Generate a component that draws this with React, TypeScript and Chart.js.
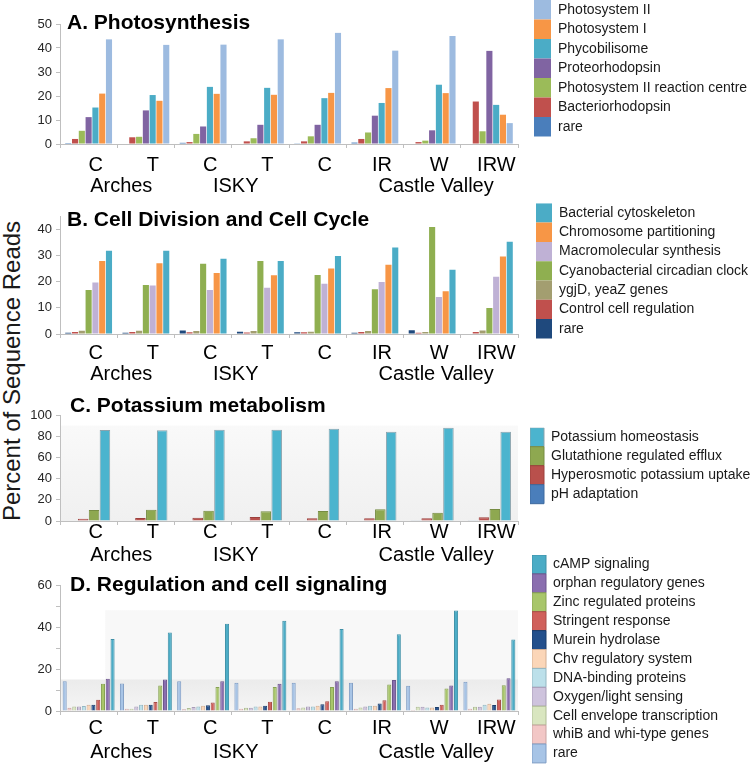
import React, { useEffect, useRef } from "react";
import { Chart, registerables } from "chart.js";

Chart.register(...registerables);

const FONT = '"Liberation Sans", Arial, Helvetica, sans-serif';
Chart.defaults.font.family = FONT;

// ---------- shared axis data ----------
const CATEGORIES = ["C", "T", "C", "T", "C", "IR", "W", "IRW"];
const GROUP_NAMES = ["Arches", "ISKY", "Castle Valley"];
const GROUP_CENTERS = [0.5, 2.5, 6];
const Y_TITLE = "Percent of Sequence Reads";

// ---------- A. Photosynthesis ----------
const A_TITLE = "A. Photosynthesis";
const A_NAMES = ["rare", "Bacteriorhodopsin", "Photosystem II reaction centre", "Proteorhodopsin", "Phycobilisome", "Photosystem I", "Photosystem II"];
const A_RARE = [0.4, 0, 0.5, 0, 0.3, 0.6, 0, 0];
const A_BACTERIORHODOPSIN = [2.1, 2.8, 0.8, 1.1, 1.1, 2.1, 0.8, 17.7];
const A_PSII_REACTION_CENTRE = [5.5, 3.0, 4.2, 2.4, 3.2, 4.8, 1.4, 5.3];
const A_PROTEORHODOPSIN = [11.2, 14.0, 7.3, 8.0, 8.0, 11.8, 5.7, 38.8];
const A_PHYCOBILISOME = [15.2, 20.4, 23.8, 23.4, 19.1, 17.1, 24.7, 16.3];
const A_PHOTOSYSTEM_I = [21.0, 18.0, 20.9, 20.5, 21.3, 23.3, 21.2, 12.2];
const A_PHOTOSYSTEM_II = [43.6, 41.3, 41.4, 43.6, 46.3, 38.9, 45.0, 8.7];
const A_COLORS = ["#4A7EBB", "#C0504D", "#9BBB59", "#8064A2", "#4BACC6", "#F79646", "#9DBBE0"];

// ---------- B. Cell Division and Cell Cycle ----------
const B_TITLE = "B. Cell Division and Cell Cycle";
const B_NAMES = ["rare", "Control cell regulation", "ygjD, yeaZ genes", "Cyanobacterial circadian clock", "Macromolecular synthesis", "Chromosome partitioning", "Bacterial cytoskeleton"];
const B_RARE = [0.5, 0.5, 1.3, 0.9, 0.7, 0.5, 1.4, 0.2];
const B_CONTROL = [0.8, 0.8, 0.7, 0.6, 0.7, 0.8, 0.5, 0.8];
const B_YGJD_YEAZ = [1.2, 1.2, 1.1, 1.1, 0.9, 1.1, 0.8, 1.3];
const B_CIRCADIAN = [16.8, 18.7, 26.8, 27.9, 22.5, 17.1, 40.9, 9.9];
const B_MACROMOLECULAR = [19.7, 18.5, 16.8, 17.7, 19.2, 19.9, 14.1, 21.9];
const B_CHROMOSOME = [27.9, 27.0, 23.3, 22.4, 25.0, 26.5, 16.3, 29.6];
const B_CYTOSKELETON = [31.8, 31.8, 28.7, 27.9, 29.8, 33.0, 24.5, 35.2];
const B_COLORS = ["#1F497D", "#C0504D", "#A39E70", "#8FAF50", "#BFB1D5", "#F79646", "#4BACC6"];

// ---------- C. Potassium metabolism ----------
const C_TITLE = "C. Potassium metabolism";
const C_NAMES = ["pH adaptation", "Hyperosmotic potassium uptake", "Glutathione regulated efflux", "Potassium homeostasis"];
const C_PH = [0.5, 0.5, 0.5, 0.4, 0.5, 0.5, 0.3, 0.8];
const C_HYPEROSMOTIC = [2.2, 2.8, 3.1, 3.8, 2.5, 2.6, 2.5, 3.5];
const C_GLUTATHIONE = [10.4, 10.7, 9.7, 9.1, 9.4, 11.0, 7.9, 11.3];
const C_HOMEOSTASIS = [85.8, 85.6, 86.0, 86.0, 87.1, 84.2, 88.0, 84.2];
const C_COLORS = ["#4A7EBB", "#B9504C", "#8EA850", "#4BB4CE"];
const C_BORDERS = ["#3E6A9E", "#9C403D", "#768C42", "#8AA3AD"];

// ---------- D. Regulation and cell signaling ----------
const D_TITLE = "D. Regulation and cell signaling";
const D_NAMES = ["rare", "whiB and whi-type genes", "Cell envelope transcription", "Oxygen/light sensing", "DNA-binding proteins", "Chv regulatory system", "Murein hydrolase", "Stringent response", "Zinc regulated proteins", "orphan regulatory genes", "cAMP signaling"];
const D_RARE = [14.2, 13.1, 14.2, 13.4, 13.4, 13.4, 12.0, 13.9];
const D_WHIB = [1.6, 1.1, 0.8, 1.1, 1.3, 1.1, 0.5, 1.1];
const D_CELL_ENVELOPE = [2.1, 1.1, 1.4, 1.6, 1.7, 1.7, 2.0, 2.0];
const D_OXYGEN_LIGHT = [2.1, 2.1, 1.9, 1.6, 2.1, 2.2, 2.0, 2.0];
const D_DNA_BINDING = [2.4, 3.0, 2.1, 2.1, 2.1, 2.5, 1.7, 3.0];
const D_CHV = [3.0, 3.0, 2.5, 2.1, 2.5, 2.5, 1.7, 3.5];
const D_MUREIN = [3.0, 3.0, 2.7, 2.5, 3.2, 3.6, 1.9, 2.8];
const D_STRINGENT = [5.4, 4.3, 4.0, 4.4, 4.7, 5.1, 3.0, 5.5];
const D_ZINC = [13.0, 12.2, 11.4, 11.4, 11.4, 12.6, 10.7, 12.3];
const D_ORPHAN = [15.3, 15.0, 14.2, 13.0, 14.2, 14.8, 12.2, 15.6];
const D_CAMP = [34.3, 37.4, 41.5, 43.0, 39.0, 36.6, 47.9, 34.0];
const D_COLORS = ["#A7C4E6", "#F2C7C6", "#D9E6C0", "#CEC3DD", "#BCE0EA", "#FBD6B8", "#24508C", "#D0605B", "#A8C66A", "#8A6EAF", "#4BACC6"];
const D_BORDERS = ["#7E9CC4", "#C9A3A2", "#AEBC95", "#A79CB7", "#94B7C2", "#D2AE92", "#1B3D6B", "#A84C48", "#87A252", "#6D558D", "#3E90A7"];

const AXIS = "#BFBFBF";

type Band = { x0: number; x1: number; y0: number; y1: number; top: string; bottom: string };
type Frame = {
  top: number; height: number; padBottom: number;
  titlePadTop: number; titlePadBottom: number; titleDx: number;
  xPad: number; x2Pad: number;
  legendDx: number; legendDy: number; boxW: number; boxH: number;
  catPct: number; barPct: number;
};
type Spec = {
  title: string; names: string[]; series: number[][]; colors: string[]; borders: string[] | null;
  yMax: number; yStep: number; yEvery: number; bands: Band[]; frame: Frame;
};

const LEGEND_WIDTH = 232;

function makeTweaks(f: Frame, bands: Band[]) {
  return {
    id: "panelTweaks",
    beforeLayout(chart: any) {
      const lg = chart.legend;
      if (lg && !lg.__fixed) {
        const fit = lg.fit.bind(lg);
        lg.fit = function () {
          fit();
          this.width = LEGEND_WIDTH;
        };
        lg.__fixed = true;
      }
    },
    afterLayout(chart: any) {
      const lg = chart.legend;
      if (lg) {
        lg.left += f.legendDx; lg.right += f.legendDx;
        lg.top += f.legendDy; lg.bottom += f.legendDy;
      }
      const t = chart.titleBlock;
      if (t) { t.left += f.titleDx; t.right += f.titleDx; }
    },
    beforeDraw(chart: any) {
      const xs = chart.scales.x2;
      const ys = chart.scales.y;
      const ctx = chart.ctx;
      ctx.save();
      for (const b of bands) {
        const px0 = xs.getPixelForValue(b.x0);
        const px1 = xs.getPixelForValue(b.x1);
        const py0 = ys.getPixelForValue(b.y1);
        const py1 = ys.getPixelForValue(b.y0);
        const g = ctx.createLinearGradient(0, py0, 0, py1);
        g.addColorStop(0, b.top);
        g.addColorStop(1, b.bottom);
        ctx.fillStyle = g;
        ctx.fillRect(px0, py0, px1 - px0, py1 - py0);
      }
      ctx.restore();
    },
  };
}

const noLabelClip = (sc: any) => {
  sc._computeLabelArea = () => undefined;
};

function makeConfig(s: Spec): any {
  const f = s.frame;
  return {
    type: "bar",
    data: {
      labels: CATEGORIES,
      datasets: s.series.map((data, i) => ({
        label: s.names[i],
        data,
        backgroundColor: s.colors[i],
        borderColor: s.borders ? s.borders[i] : s.colors[i],
        borderWidth: s.borders ? 1 : 0,
        categoryPercentage: f.catPct,
        barPercentage: f.barPct,
        xAxisID: "x",
        yAxisID: "y",
      })),
    },
    options: {
      responsive: false,
      animation: false,
      events: [],
      layout: { padding: { top: 0, left: 0, right: 0, bottom: f.padBottom } },
      scales: {
        x: {
          type: "category",
          position: "bottom",
          weight: 0,
          offset: true,
          afterFit: noLabelClip,
          grid: { display: true, offset: true, drawOnChartArea: false, drawTicks: true, tickLength: 4, color: AXIS },
          border: { display: true, color: AXIS, width: 1 },
          ticks: {
            autoSkip: false, maxRotation: 0, minRotation: 0, padding: f.xPad, labelOffset: 7,
            color: "#000", font: { family: FONT, size: 20, lineHeight: 1 },
          },
        },
        x2: {
          type: "linear",
          position: "bottom",
          weight: 1,
          offset: false,
          min: -0.5,
          max: 7.5,
          afterFit: noLabelClip,
          grid: { display: false, drawTicks: false, tickLength: 0, offset: false },
          border: { display: false },
          afterBuildTicks: (sc: any) => {
            sc.ticks = GROUP_CENTERS.map((v) => ({ value: v }));
          },
          ticks: {
            autoSkip: false, maxRotation: 0, minRotation: 0, padding: f.x2Pad, labelOffset: 4,
            color: "#000", font: { family: FONT, size: 20, lineHeight: 1 },
            callback: (_v: any, i: number) => GROUP_NAMES[i],
          },
        },
        y: {
          type: "linear",
          position: "left",
          min: 0,
          max: s.yMax,
          afterFit: (sc: any) => { sc.width = 60; },
          grid: { display: true, drawOnChartArea: false, drawTicks: true, tickLength: 4, color: AXIS },
          border: { display: true, color: AXIS, width: 1 },
          ticks: {
            stepSize: s.yStep,
            includeBounds: false,
            padding: 4,
            color: "#262626",
            font: { family: FONT, size: 13 },
            callback: (v: number) => (Math.round(v) % s.yEvery === 0 ? String(v) : ""),
          },
        },
      },
      plugins: {
        tooltip: { enabled: false },
        legend: {
          display: true,
          position: "right",
          align: "start",
          reverse: true,
          fullSize: true,
          labels: {
            boxWidth: f.boxW, boxHeight: f.boxH, padding: 0, color: "#1a1a1a",
            font: { family: FONT, size: 14 },
          },
        },
        title: {
          display: true,
          text: s.title,
          position: "top",
          align: "start",
          fullSize: false,
          color: "#000",
          font: { family: FONT, size: 21, weight: "bold", lineHeight: 1.2 },
          padding: { top: f.titlePadTop, bottom: f.titlePadBottom },
        },
      },
    },
    plugins: [makeTweaks(f, s.bands)],
  };
}

const SPECS: Spec[] = [
  {
    title: A_TITLE, names: A_NAMES,
    series: [A_RARE, A_BACTERIORHODOPSIN, A_PSII_REACTION_CENTRE, A_PROTEORHODOPSIN, A_PHYCOBILISOME, A_PHOTOSYSTEM_I, A_PHOTOSYSTEM_II],
    colors: A_COLORS, borders: null, yMax: 50, yStep: 5, yEvery: 10, bands: [],
    frame: { top: 0, height: 200, padBottom: 10, titlePadTop: 10.4, titlePadBottom: -11.6, titleDx: 7,
      xPad: 7, x2Pad: -6, legendDx: 16, legendDy: 0, boxW: 17, boxH: 19.5, catPct: 0.83, barPct: 0.9 },
  },
  {
    title: B_TITLE, names: B_NAMES,
    series: [B_RARE, B_CONTROL, B_YGJD_YEAZ, B_CIRCADIAN, B_MACROMOLECULAR, B_CHROMOSOME, B_CYTOSKELETON],
    colors: B_COLORS, borders: null, yMax: 45, yStep: 5, yEvery: 10, bands: [],
    frame: { top: 195, height: 195, padBottom: 10.6, titlePadTop: 12.9, titlePadBottom: -16.9, titleDx: 7,
      xPad: 5.3, x2Pad: -4.6, legendDx: 18, legendDy: 8.3, boxW: 16, boxH: 19.3, catPct: 0.83, barPct: 0.9 },
  },
  {
    title: C_TITLE, names: C_NAMES,
    series: [C_PH, C_HYPEROSMOTIC, C_GLUTATHIONE, C_HOMEOSTASIS],
    colors: C_COLORS, borders: C_BORDERS, yMax: 100, yStep: 10, yEvery: 20,
    bands: [{ x0: -0.5, x1: 7.5, y0: 0, y1: 90, top: "#f9f9f9", bottom: "#f0f0f0" }],
    frame: { top: 385, height: 190, padBottom: 4, titlePadTop: 8.4, titlePadBottom: -3.6, titleDx: 10,
      xPad: -2.5, x2Pad: 5.5, legendDx: 12, legendDy: 42.7, boxW: 14, boxH: 19, catPct: 0.76, barPct: 0.97 },
  },
  {
    title: D_TITLE, names: D_NAMES,
    series: [D_RARE, D_WHIB, D_CELL_ENVELOPE, D_OXYGEN_LIGHT, D_DNA_BINDING, D_CHV, D_MUREIN, D_STRINGENT, D_ZINC, D_ORPHAN, D_CAMP],
    colors: D_COLORS, borders: D_BORDERS, yMax: 60, yStep: 10, yEvery: 20,
    bands: [
      { x0: 0.29, x1: 7.5, y0: 0, y1: 48, top: "#f8f8f8", bottom: "#f8f8f8" },
      { x0: -0.5, x1: 7.5, y0: 0, y1: 15, top: "#ebebeb", bottom: "#f5f5f5" },
    ],
    frame: { top: 550, height: 215, padBottom: 2, titlePadTop: 22.4, titlePadBottom: -12.6, titleDx: 10,
      xPad: 3.5, x2Pad: 0.5, legendDx: 14, legendDy: 5, boxW: 14, boxH: 18.9, catPct: 0.92, barPct: 0.85 },
  },
];

function Panel({ spec }: { spec: Spec }) {
  const ref = useRef<HTMLCanvasElement | null>(null);
  useEffect(() => {
    if (!ref.current) return;
    const chart = new Chart(ref.current, makeConfig(spec));
    return () => chart.destroy();
  }, [spec]);
  return (
    <canvas
      ref={ref}
      width={750}
      height={spec.frame.height}
      style={{ position: "absolute", left: 0, top: spec.frame.top, width: 750, height: spec.frame.height }}
    />
  );
}

export default function App() {
  return (
    <div style={{ position: "absolute", left: 0, top: 0, width: 750, height: 765, background: "#fff", overflow: "hidden" }}>
      <div
        style={{
          position: "absolute",
          left: 11.7 - 200,
          top: 370.5 - 15,
          width: 400,
          height: 30,
          lineHeight: "30px",
          textAlign: "center",
          transform: "rotate(-90deg)",
          fontFamily: FONT,
          fontSize: 24,
          color: "#1a1a1a",
          whiteSpace: "nowrap",
        }}
      >
        {Y_TITLE}
      </div>
      {SPECS.map((s, i) => (
        <Panel key={i} spec={s} />
      ))}
    </div>
  );
}
